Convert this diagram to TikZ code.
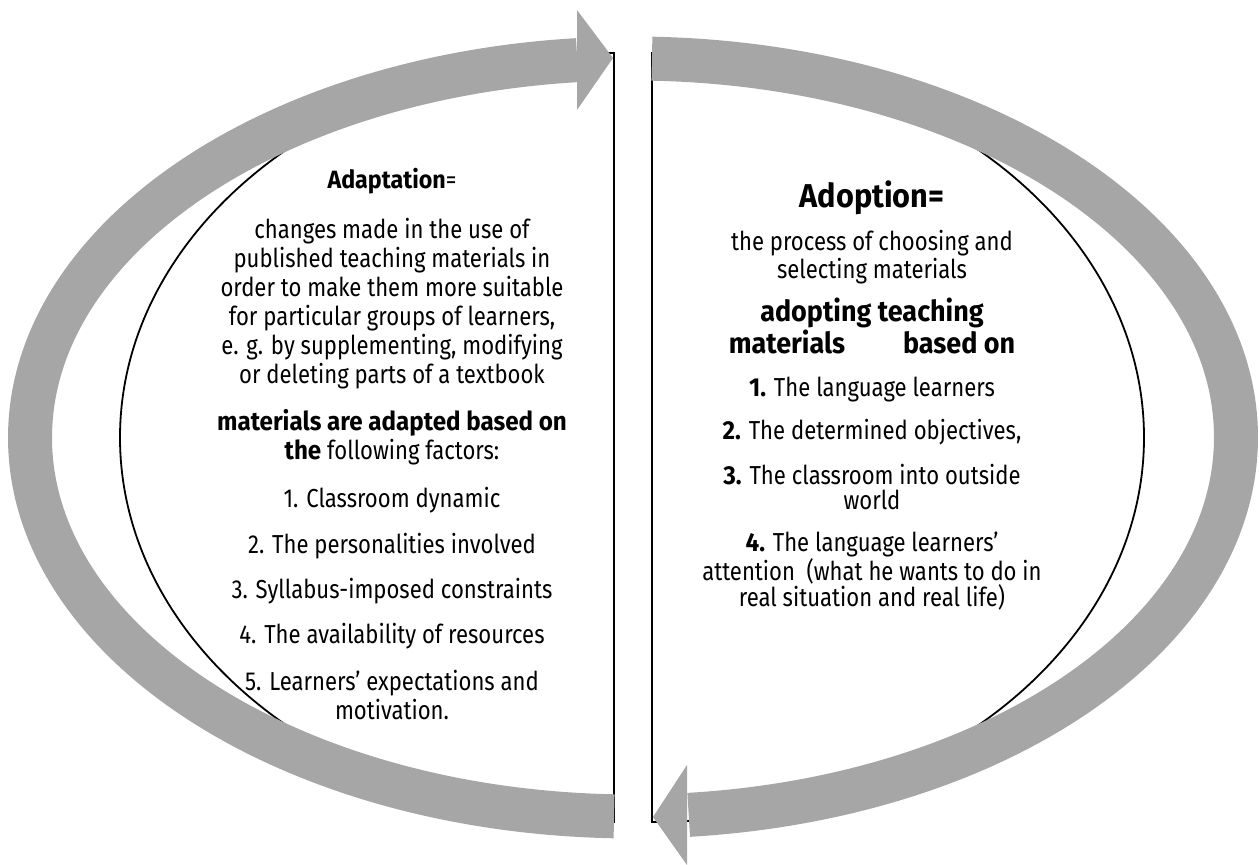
\documentclass[tikz,border=0pt]{standalone}
\usepackage{fontspec}
\setmainfont{Fira Sans}[UprightFeatures={FakeStretch=0.85},BoldFeatures={FakeStretch=0.93}]
\usetikzlibrary{positioning}
\definecolor{arrowgray}{RGB}{166,166,166}

\begin{document}
\begin{tikzpicture}[
      x=0.5pt,y=-0.5pt,
      halfpage/.style={
        draw=black,
        line width=0.9pt
      },
      band/.style={
        draw=arrowgray,
        line width=22pt
      },
      head/.style={
        fill=arrowgray,
        draw=none
      },
      txt/.style={
        align=center,
        inner sep=0pt,
        font=\fontsize{13}{14.5}\selectfont
      }
    ]
    \useasboundingbox (0,0) rectangle (1259,865);
    %% Centres
    \coordinate (lc) at (614,437.5);
    \coordinate (rc) at (652,437.5);
    \coordinate (mid) at (633,437.5);
    %% Half ellipses
    \draw[halfpage] (614,53) arc[start angle=270,end angle=90,x radius=494,y radius=384.5] -- cycle;
    \draw[halfpage] (652,53) arc[start angle=-90,end angle=90,x radius=492,y radius=384.5] -- cycle;
    %% Left arrow
    \draw[band] (mid) ++(91.8:603 and 379) arc[start angle=91.8,end angle=264.7,x radius=603,y radius=379];
    \fill[head] (577,10) -- (613,58) -- (577,110) -- cycle;
    %% Right arrow
    \draw[band] (mid) ++(-88.2:603 and 379) arc[start angle=-88.2,end angle=84.7,x radius=603,y radius=379];
    \fill[head] (687,865) -- (653,817) -- (687,765) -- cycle;
    %% Adaptation
    \node[txt,font=\fontsize{12.5}{14}\selectfont] (adapt) at (392,181) {\textbf{Adaptation}=};
    \node[txt] (adapt-def) at (392,303.5) {changes made in the use of\\
      published teaching materials in\\
      order to make them more suitable\\
      for particular groups of learners,\\
      e. g. by supplementing, modifying\\
      or deleting parts of a textbook};
    \node[txt] (adapt-base) at (392,437.5) {\textbf{materials are adapted based on}\\
      \textbf{the} following factors:};
    \foreach \n/\t/\y in {1/Classroom dynamic/500,
                          2/The personalities involved/546,
                          3/Syllabus-imposed constraints/591,
                          4/The availability of resources/636}
      \node[txt] (factor-\n) at (392,\y) {\n. \t};
    \node[txt] (factor-5) at (392,695) {5. Learners' expectations and\\motivation.};
    %% Adoption
    \node[txt,font=\bfseries\fontsize{16.5}{18}\selectfont] (adopt) at (872,198) {Adoption=};
    \node[txt,font=\fontsize{13}{12.5}\selectfont] (adopt-def) at (872,257.5) {the process of choosing and\\
      selecting materials};
    \node[txt,font=\bfseries\fontsize{14.5}{14}\selectfont] (adopt-base) at (872,326) {adopting teaching\\
      materials\hspace{2em}based on};
    \node[txt] (item-1) at (872,390) {\textbf{1.} The language learners};
    \node[txt] (item-2) at (872,432) {\textbf{2.} The determined objectives,};
    \node[txt,font=\fontsize{13}{12.5}\selectfont] (item-3) at (872,487.5) {\textbf{3.} The classroom into outside\\
      world};
    \node[txt,font=\fontsize{13}{13}\selectfont] (item-4) at (872,571) {\textbf{4.} The language learners'\\
      attention\ \ (what he wants to do in\\
      real situation and real life)};
  \end{tikzpicture}
\end{document}
